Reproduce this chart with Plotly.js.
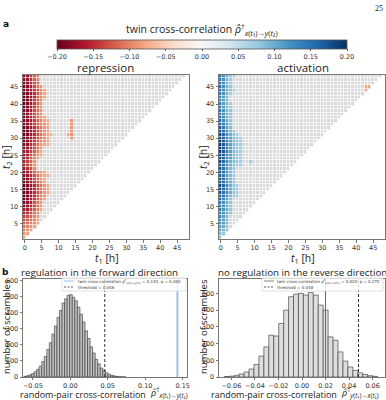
<!DOCTYPE html>
<html><head><meta charset="utf-8">
<script src="https://cdn.plot.ly/plotly-3.0.1.min.js"></script>
<style>html,body{margin:0;padding:0;background:#fff}#chart{width:386px;height:400px}</style>
</head><body><div id="chart"></div>
<script>
// ---------- DATA ----------
// Heatmap rows: index = t2-1 (t2 = 1..48 h); entries = value x 0.01 for t1 = 0,1,2,... h
// cells of the triangle t1 < t2 that are not listed are non-significant (drawn gray)
const nHours = 48;
const repressionRows = [
 [-8],[-9,-8],[-10,-9,-8],[-11,-10,-9,-8],[-12,-11,-10,-9,-8],
 [-13,-12,-11,-10,-8],[-14,-13,-12,-10,-9],[-16,-15,-13,-11,-9],[-17,-16,-14,-12,-10,-8],[-18,-17,-15,-13,-11,-9],
 [-19,-18,-16,-13,-11,-9],[-19,-18,-16,-14,-12,-10,-8],[-20,-19,-17,-15,-12,-10,-9],[-20,-19,-17,-15,-13,-11,-9,-8],[-20,-19,-18,-15,-13,-11,-9,-8],
 [-20,-19,-17,-15,-13,-11,-9,-8],[-19,-18,-16,-14,-12,-10,-8],[-19,-18,-16,-13,-11,-9,-8],[-18,-17,-15,-13,-11,-9,-8,-8],[-18,-17,-14,-12,-10,-9,-8],
 [-17,-15,-13,-10],[-16,-14,-12,-9],[-16,-14,-12,-9],[-16,-15,-12,-10,-8],[-17,-16,-13,-11,-9,-8],
 [-17,-16,-14,-12,-10,-8],[-18,-17,-15,-13,-11,-9],[-19,-18,-15,-13,-11,-9,-8,-7],[-19,-18,-16,-14,-12,-10,-9,-8],[-20,-19,-17,-15,-13,-11,-9,-8],
 [-20,-19,-17,-15,-13,-11,-9,-8,-7],[-20,-19,-17,-15,-13,-11,-9,-8],[-20,-19,-17,-15,-13,-11,-9,-8],[-19,-18,-16,-14,-12,-10,-9,-8],[-19,-18,-16,-14,-12,-10,-8,-8],
 [-19,-18,-15,-13,-11,-9,-8],[-19,-18,-15,-13,-11,-9],[-19,-18,-16,-13,-11,-9],[-20,-19,-16,-14,-11,-9],[-20,-19,-17,-14,-12,-9],
 [-20,-19,-17,-14,-12,-10],[-20,-19,-17,-15,-12,-10,-8],[-20,-19,-17,-15,-12,-10,-8],[-19,-18,-16,-14,-12,-10,-8],[-19,-18,-16,-13,-11,-9],
 [-19,-18,-15,-13,-11],[-18,-17,-15,-12,-10],[-18,-17,-14,-12,-10]
];
const repressionExtra = [[14,30,-9],[13,31,-8],[14,31,-9],[14,32,-9],[14,33,-9],[14,34,-9],[14,35,-9]]; // [t1, t2, value x 0.01]
const activationRows = [
 [8],[9,8],[10,9,8],[11,10,8],[12,11,9],
 [12,11,9],[13,11,9],[13,12,10,8],[14,12,10,8],[14,12,10,8],
 [14,12,10,8],[15,13,11,8],[16,15,12,9,8,7],[17,15,13,10,8,7],[18,16,13,10,9,7],
 [18,16,13,10,8,7],[17,15,12,10,8],[17,15,12,9,8],[16,14,11,9,7],[17,15,12,9,7],
 [17,15,12,9,8],[17,15,12,10,8,7,7],[18,16,13,10,9,8,7],[18,16,13,11,9,8,7],[18,16,13,11,9,8,7],
 [19,17,14,11,9,8,7],[19,17,14,11,9,8,7],[19,17,14,11,9,8,7],[19,17,14,11,9,8,7],[18,16,13,11,9,8,7],
 [18,16,13,10,8,7],[17,15,12,9,8],[17,14,11,9],[16,14,11,8],[15,13,10,8],
 [15,13,10,8],[14,12,10,8],[14,12,9,8],[14,11,9,7],[14,11,9,7],
 [13,11,9],[13,11,9],[14,12,9,7],[15,12,10,8,7],[15,12,10,8],
 [14,12,9,7],[14,12,9,7],[15,12,10,8,7]
];
const activationExtra = [[9,23,7],[43,44,-8],[43,45,-8],[44,45,-8]];

// Histograms of random-pair cross-correlations (counts per bin)
const fwdBinStart = -0.0603, fwdBinWidth = 0.0034;
const fwdCounts = [4,8,13,21,33,48,68,96,128,172,214,268,318,372,416,462,488,510,514,498,476,436,392,344,288,240,188,150,110,82,56,40,26,17,11,7,4,2,1,1];
const revBinStart = -0.0639, revBinWidth = 0.0042;
const revCounts = [3,5,10,18,30,48,75,125,180,250,245,320,400,480,495,500,490,505,490,430,400,240,220,150,95,60,40,25,15,8,4];
const fwdTwin = 0.143, fwdP = '0.000', fwdThreshold = 0.046;
const revTwin = 0.020, revP = '0.272', revThreshold = 0.048;

// ---------- BUILD ----------
function buildZ(rows, extra){
  const z = [];
  for (let r = 0; r < nHours; r++){
    const row = new Array(nHours).fill(null);
    (rows[r] || []).forEach((v, c) => { if (v !== null) row[c] = v / 100; });
    z.push(row);
  }
  extra.forEach(([c, t2, v]) => { z[t2 - 1][c] = v / 100; });
  return z;
}
const mask = [];
for (let r = 0; r < nHours; r++){ const row = []; for (let c = 0; c < nHours; c++) row.push(c < r + 1 ? 1 : null); mask.push(row); }

const rdbu = [[0,'#67001f'],[0.1,'#b2182b'],[0.2,'#d6604d'],[0.3,'#f4a582'],[0.4,'#fddbc7'],[0.5,'#f7f7f7'],
              [0.6,'#d1e5f0'],[0.7,'#92c5de'],[0.8,'#4393c3'],[0.9,'#2166ac'],[1,'#053061']];
const W = 386, H = 400;
const px = x => x / W, py = y => 1 - y / H;
const tickFont = {family:'DejaVu Sans', size:6.5, color:'#333'};
const titleFont = {family:'Open Sans', size:11, color:'#222'};
const GAP = 0.7;

function heatPair(z, xa, ya, withBar){
  return [
    {type:'heatmap', z:mask, x0:0, dx:1, y0:1, dy:1, colorscale:[[0,'#dadada'],[1,'#dadada']], showscale:false,
     xgap:GAP, ygap:GAP, hoverinfo:'skip', xaxis:xa, yaxis:ya},
    {type:'heatmap', z:z, x0:0, dx:1, y0:1, dy:1, colorscale:rdbu, zmin:-0.2, zmax:0.2, zauto:false,
     xgap:GAP, ygap:GAP, showscale:withBar, xaxis:xa, yaxis:ya,
     colorbar: withBar ? {orientation:'h', x:px(202), xanchor:'center', y:py(40), yanchor:'top',
       lenmode:'pixels', len:290, thickness:9, xpad:0, ypad:0, outlinecolor:'#555', outlinewidth:0.8,
       tickvals:[-0.2,-0.15,-0.1,-0.05,0,0.05,0.1,0.15,0.2], tickformat:'.2f', ticks:'outside', ticklen:2,
       tickcolor:'#555', tickfont:tickFont} : undefined}
  ];
}

const traces = [
  ...heatPair(buildZ(repressionRows, repressionExtra), 'x', 'y', true),
  ...heatPair(buildZ(activationRows, activationExtra), 'x2', 'y2', false),
  {type:'bar', x0:fwdBinStart, dx:fwdBinWidth, y:fwdCounts, width:fwdBinWidth, xaxis:'x3', yaxis:'y3',
   marker:{color:'#c4c4c4', line:{color:'#333', width:0.6}}, hoverinfo:'x+y'},
  {type:'bar', x0:revBinStart, dx:revBinWidth, y:revCounts, width:revBinWidth, xaxis:'x4', yaxis:'y4',
   marker:{color:'#dedede', line:{color:'#333', width:0.6}}, hoverinfo:'x+y'}
];

function ax(domain, range, extra){
  return Object.assign({domain:domain, range:range, showline:true, mirror:true, linecolor:'#777', linewidth:1,
    ticks:'outside', ticklen:2.5, tickcolor:'#555', tickwidth:0.8, tickfont:tickFont, showgrid:false, zeroline:false,
    fixedrange:true}, extra);
}
const hmY = [py(239), py(75)], hsY = [py(377), py(279)];
const hours = [0,5,10,15,20,25,30,35,40,45];
const layout = {
  width:W, height:H, margin:{l:0,r:0,t:0,b:0, autoexpand:false}, paper_bgcolor:'#fff', plot_bgcolor:'#fff',
  showlegend:false, bargap:0,
  xaxis: ax([px(23), px(189)], [-0.5, 48.5], {anchor:'y', tickvals:hours}),
  yaxis: ax(hmY, [0.5, 48.5], {anchor:'x', tickvals:hours.slice(1)}),
  xaxis2: ax([px(219), px(385)], [-0.5, 48.5], {anchor:'y2', tickvals:hours}),
  yaxis2: ax(hmY, [0.5, 48.5], {anchor:'x2', tickvals:hours.slice(1)}),
  xaxis3: ax([px(23), px(187)], [-0.0632, 0.1558], {anchor:'y3', tickvals:[-0.05,0,0.05,0.1,0.15], tickformat:'.2f', ticklen:2}),
  yaxis3: ax(hsY, [0, 612], {anchor:'x3', tickvals:[0,100,200,300,400,500,600]}),
  xaxis4: ax([px(219), px(385)], [-0.0705, 0.0705], {anchor:'y4', tickvals:[-0.06,-0.04,-0.02,0,0.02,0.04,0.06], tickformat:'.2f', ticklen:2}),
  yaxis4: ax(hsY, [0, 586], {anchor:'x4', tickvals:[0,100,200,300,400,500]}),
  shapes: [
    {type:'line', xref:'paper', yref:'paper', x0:px(202), x1:px(202), y0:py(40), y1:py(49), line:{color:'#bbb', width:1}},
    {type:'line', xref:'x3', yref:'y3 domain', x0:fwdThreshold, x1:fwdThreshold, y0:0, y1:1, line:{color:'#333', width:1, dash:'3px,2px'}},
    {type:'line', xref:'x3', yref:'y3 domain', x0:fwdTwin, x1:fwdTwin, y0:0, y1:1, line:{color:'#9fbfe8', width:2}},
    {type:'line', xref:'x4', yref:'y4 domain', x0:revThreshold, x1:revThreshold, y0:0, y1:1, line:{color:'#333', width:1, dash:'3px,2px'}},
    {type:'line', xref:'x4', yref:'y4 domain', x0:revTwin, x1:revTwin, y0:0, y1:1, line:{color:'#666', width:1}},
    // legend boxes
    {type:'rect', xref:'paper', yref:'paper', x0:px(62), x1:px(186), y0:py(291), y1:py(278), fillcolor:'rgba(255,255,255,0.8)', line:{color:'#ccc', width:0.6}},
    {type:'line', xref:'paper', yref:'paper', x0:px(64), x1:px(74), y0:py(281), y1:py(281), line:{color:'#9fbfe8', width:1}},
    {type:'line', xref:'paper', yref:'paper', x0:px(64), x1:px(74), y0:py(287), y1:py(287), line:{color:'#333', width:0.8, dash:'2px,1.5px'}},
    {type:'rect', xref:'paper', yref:'paper', x0:px(262), x1:px(383), y0:py(291), y1:py(278), fillcolor:'rgba(255,255,255,0.8)', line:{color:'#ccc', width:0.6}},
    {type:'line', xref:'paper', yref:'paper', x0:px(264), x1:px(274), y0:py(281), y1:py(281), line:{color:'#666', width:0.8}},
    {type:'line', xref:'paper', yref:'paper', x0:px(264), x1:px(274), y0:py(287), y1:py(287), line:{color:'#333', width:0.8, dash:'2px,1.5px'}}
  ],
  annotations: []
};
function note(text, x, y, opts){
  layout.annotations.push(Object.assign({text:text, x:px(x), y:py(y), xref:'paper', yref:'paper', showarrow:false,
    xanchor:'center', yanchor:'middle', borderpad:0, font:titleFont}, opts || {}));
}
const rhoXY = '<i>ρ̂</i><sup>†</sup><sub><i>x</i>(<i>t</i>₁)→<i>y</i>(<i>t</i>₂)</sub>';
const rhoYX = '<i>ρ̂</i><sup>†</sup><sub><i>y</i>(<i>t</i>₁)→<i>x</i>(<i>t</i>₂)</sub>';
note('<b>a</b>', 6, 24, {font:{family:'DejaVu Sans', size:9, color:'#111'}});
note('25', 379, 8, {font:{family:'Liberation Serif', size:8, color:'#222'}});
note('twin cross-correlation ' + rhoXY, 202, 30, {font:{family:'Open Sans', size:10.5, color:'#222'}});
note('repression', 106, 67, {font:{family:'Open Sans', size:11.5, color:'#222'}});
note('activation', 303, 67, {font:{family:'Open Sans', size:11.5, color:'#222'}});
note('<i>t</i><sub>1</sub> [h]', 107, 258.5, {font:{family:'Open Sans', size:10.5, color:'#222'}});
note('<i>t</i><sub>1</sub> [h]', 303, 258.5, {font:{family:'Open Sans', size:10.5, color:'#222'}});
note('<i>t</i><sub>2</sub> [h]', 6, 157, {textangle:-90, font:{family:'Open Sans', size:10.5, color:'#222'}});
note('<i>t</i><sub>2</sub> [h]', 203, 157, {textangle:-90, font:{family:'Open Sans', size:10.5, color:'#222'}});
note('<b>b</b>', 5, 272, {font:{family:'DejaVu Sans', size:9, color:'#111'}});
note('regulation in the forward direction', 99, 272, {font:{family:'Open Sans', size:9.8, color:'#222'}});
note('no regulation in the reverse direction', 302, 272, {font:{family:'Open Sans', size:9.8, color:'#222'}});
note('number of scrambles', 6, 327, {textangle:-90, font:{family:'Open Sans', size:9.5, color:'#222'}});
note('number of scrambles', 203, 327, {textangle:-90, font:{family:'Open Sans', size:9.5, color:'#222'}});
const xTitleFont = {family:'Open Sans', size:9, color:'#222'};
note('random-pair cross-correlation', 147, 394, {xanchor:'right', font:xTitleFont});
note(rhoXY, 149, 392.5, {xanchor:'left', font:xTitleFont});
note('random-pair cross-correlation', 338, 394, {xanchor:'right', font:xTitleFont});
note(rhoYX, 340, 392.5, {xanchor:'left', font:xTitleFont});
const legFont = {family:'DejaVu Sans', size:4, color:'#333'};
note('twin cross-correlation ' + rhoXY + ' = ' + fwdTwin.toFixed(3) + ', p = ' + fwdP, 77, 281, {xanchor:'left', font:legFont});
note('threshold = ' + fwdThreshold.toFixed(3), 77, 287, {xanchor:'left', font:legFont});
note('twin cross-correlation ' + rhoYX + ' = ' + revTwin.toFixed(3) + ', p = ' + revP, 276, 281, {xanchor:'left', font:legFont});
note('threshold = ' + revThreshold.toFixed(3), 276, 287, {xanchor:'left', font:legFont});

Plotly.newPlot('chart', traces, layout, {staticPlot:true, displayModeBar:false});
</script></body></html>
